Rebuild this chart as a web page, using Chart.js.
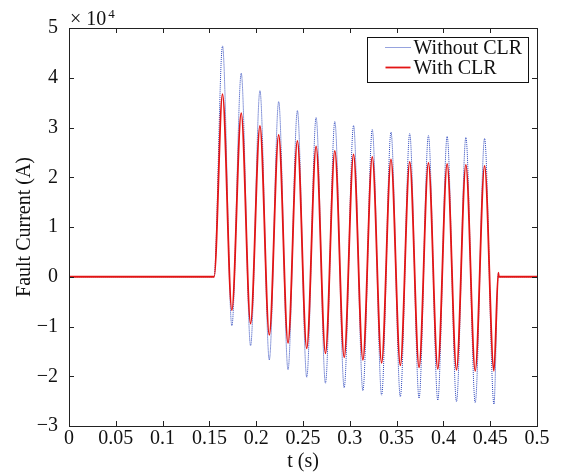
<!DOCTYPE html>
<html>
<head>
<meta charset="utf-8">
<script src="https://cdn.jsdelivr.net/npm/chart.js@4/dist/chart.umd.min.js"></script>
<style>
  html, body { margin: 0; padding: 0; background: #fff; }
</style>
</head>
<body>
<canvas id="chart" width="564" height="476"></canvas>
<script>
// values, current in units of 10^4 A
const peakTimes = [0.164, 0.184, 0.204, 0.224, 0.244, 0.264, 0.284, 0.304, 0.324, 0.344, 0.364, 0.384, 0.404, 0.424, 0.444];
const troughTimes = [0.174, 0.194, 0.214, 0.234, 0.254, 0.274, 0.294, 0.314, 0.334, 0.354, 0.374, 0.394, 0.414, 0.434, 0.454];

const withoutPeaks = [4.64, 4.09, 3.74, 3.52, 3.34, 3.20, 3.12, 3.04, 2.96, 2.91, 2.88, 2.84, 2.82, 2.80, 2.78];
const withoutTroughs = [-0.99, -1.39, -1.67, -1.87, -2.02, -2.14, -2.23, -2.29, -2.38, -2.41, -2.44, -2.48, -2.51, -2.53, -2.56];
const withPeaks = [3.67, 3.29, 3.03, 2.85, 2.73, 2.62, 2.53, 2.46, 2.41, 2.36, 2.31, 2.29, 2.27, 2.25, 2.23];
const withTroughs = [-0.67, -0.94, -1.17, -1.33, -1.44, -1.54, -1.62, -1.67, -1.73, -1.78, -1.82, -1.85, -1.87, -1.89, -1.89];

// flat parts before the fault and after it is cleared
const preTimes = [0, 0.155];
const preValues = [0, 0];
const postTimes = [0.4587, 0.4592, 0.5];
const postValues = [0.08, 0, 0];

const seriesLabels = ['Without CLR', 'With CLR'];
const xTicks = [0, 0.05, 0.1, 0.15, 0.2, 0.25, 0.3, 0.35, 0.4, 0.45, 0.5];
const yTicks = [-3, -2, -1, 0, 1, 2, 3, 4, 5];

function buildPoints(peaks, troughs) {
  const pts = [];
  preTimes.forEach((t, i) => pts.push({ x: t, y: preValues[i] }));
  peaks.forEach((p, i) => {
    pts.push({ x: peakTimes[i], y: p });
    pts.push({ x: troughTimes[i], y: troughs[i] });
  });
  postTimes.forEach((t, i) => pts.push({ x: t, y: postValues[i] }));
  return pts;
}

const serif = 'Liberation Serif, Times New Roman, serif';
const blue = '#2c46bc';
const red = '#e31414';
const axisColor = '#222';

const frame = {
  id: 'frame',
  afterDraw(chart) {
    const { ctx, chartArea: a, scales } = chart;
    ctx.save();
    ctx.strokeStyle = axisColor;
    ctx.lineWidth = 1;
    ctx.strokeRect(Math.round(a.left) + 0.5, Math.round(a.top) + 0.5,
      Math.round(a.right - a.left), Math.round(a.bottom - a.top));

    // inward tick marks on all four sides
    const tl = 5;
    ctx.beginPath();
    xTicks.forEach(v => {
      const px = Math.round(scales.x.getPixelForValue(v)) + 0.5;
      ctx.moveTo(px, a.bottom); ctx.lineTo(px, a.bottom - tl);
      ctx.moveTo(px, a.top); ctx.lineTo(px, a.top + tl);
    });
    yTicks.forEach(v => {
      const py = Math.round(scales.y.getPixelForValue(v)) + 0.5;
      ctx.moveTo(a.left, py); ctx.lineTo(a.left + tl, py);
      ctx.moveTo(a.right, py); ctx.lineTo(a.right - tl, py);
    });
    ctx.stroke();

    // exponent label
    ctx.fillStyle = '#111';
    ctx.textBaseline = 'alphabetic';
    ctx.textAlign = 'left';
    ctx.font = '20px ' + serif;
    ctx.fillText('\u00d7 10', a.left + 1, a.top - 3);
    const w = ctx.measureText('\u00d7 10').width;
    ctx.font = '13px ' + serif;
    ctx.fillText('4', a.left + 3 + w, a.top - 10);

    // legend box
    const bw = 161, bh = 45;
    const bx = Math.round(a.right - 9 - bw) + 0.5;
    const by = Math.round(a.top + 9) + 0.5;
    ctx.fillStyle = '#fff';
    ctx.fillRect(bx, by, bw, bh);
    ctx.strokeStyle = '#111';
    ctx.strokeRect(bx, by, bw, bh);

    const rows = [
      { color: blue, dash: [1, 1], width: 1 },
      { color: red, dash: [], width: 1.8 }
    ];
    rows.forEach((r, i) => {
      const y = by + 10 + i * 20;
      ctx.beginPath();
      ctx.strokeStyle = r.color;
      ctx.lineWidth = r.width;
      ctx.setLineDash(r.dash);
      ctx.moveTo(bx + 18, y);
      ctx.lineTo(bx + 43, y);
      ctx.stroke();
      ctx.setLineDash([]);
      ctx.fillStyle = '#111';
      ctx.font = '20px ' + serif;
      ctx.textBaseline = 'middle';
      ctx.fillText(seriesLabels[i], bx + 46, y + 1);
    });
    ctx.restore();
  }
};

const fmt = v => {
  const s = parseFloat(v.toFixed(2)).toString();
  return v < 0 ? '\u2212' + s.slice(1) : s;
};

new Chart(document.getElementById('chart'), {
  type: 'line',
  data: {
    datasets: [
      {
        label: seriesLabels[0],
        data: buildPoints(withoutPeaks, withoutTroughs),
        borderColor: blue,
        borderWidth: 1,
        borderDash: [1, 1],
        pointRadius: 0,
        fill: false,
        cubicInterpolationMode: 'monotone',
        order: 1
      },
      {
        label: seriesLabels[1],
        data: buildPoints(withPeaks, withTroughs),
        borderColor: red,
        borderWidth: 1.8,
        pointRadius: 0,
        fill: false,
        cubicInterpolationMode: 'monotone',
        order: 0
      }
    ]
  },
  options: {
    responsive: false,
    animation: false,
    layout: { padding: { top: 28, right: 27, left: 0, bottom: 0 } },
    plugins: {
      legend: { display: false },
      tooltip: { enabled: false }
    },
    scales: {
      x: {
        type: 'linear',
        min: 0,
        max: 0.5,
        afterBuildTicks: s => { s.ticks = xTicks.map(v => ({ value: v })); },
        afterFit: s => { s.height = 50; },
        ticks: {
          autoSkip: false,
          maxRotation: 0,
          padding: 1,
          color: '#111',
          font: { family: serif, size: 20 },
          callback: v => fmt(v)
        },
        grid: { display: false, drawTicks: false },
        border: { display: false },
        title: {
          display: true,
          text: 't (s)',
          color: '#111',
          font: { family: serif, size: 20 },
          padding: { top: 0, bottom: 2 }
        }
      },
      y: {
        min: -3,
        max: 5,
        afterBuildTicks: s => { s.ticks = yTicks.map(v => ({ value: v })); },
        afterFit: s => { s.width = 69; },
        ticks: {
          padding: 11,
          color: '#111',
          font: { family: serif, size: 20 },
          callback: v => fmt(v)
        },
        grid: { display: false, drawTicks: false },
        border: { display: false },
        title: {
          display: true,
          text: 'Fault Current (A)',
          color: '#111',
          font: { family: serif, size: 20 },
          padding: { top: 13, bottom: 0 }
        }
      }
    }
  },
  plugins: [frame]
});
</script>
</body>
</html>
